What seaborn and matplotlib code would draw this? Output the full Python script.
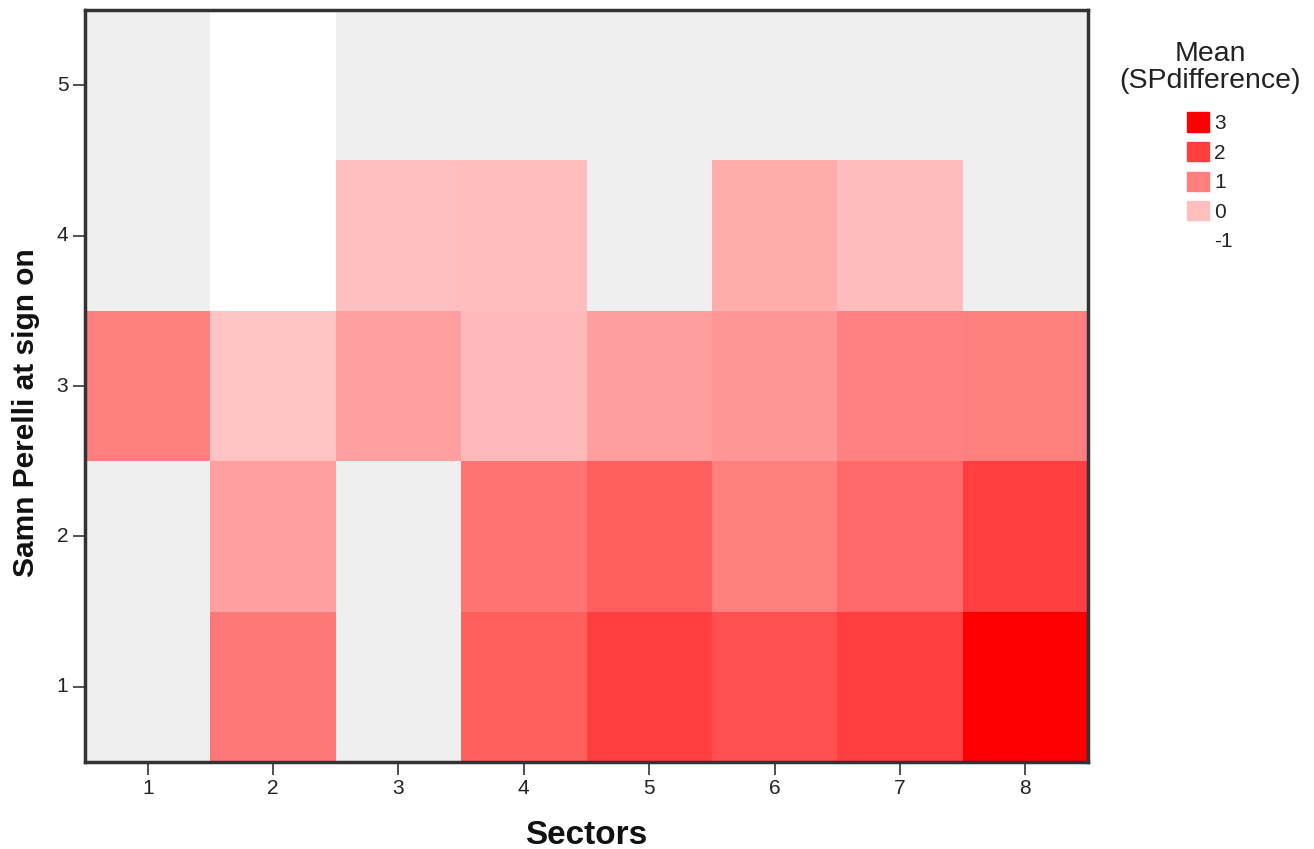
import numpy as np
import pandas as pd
import matplotlib
matplotlib.use("Agg")
import matplotlib.pyplot as plt
from matplotlib.colors import LinearSegmentedColormap, Normalize
from matplotlib.patches import Patch
import seaborn as sns

# Mean SP difference by sector (columns) and Samn Perelli level (rows); None = no data
sectors = [1, 2, 3, 4, 5, 6, 7, 8]
sp_levels = [5, 4, 3, 2, 1]
level5 = [None, -1.0, None, None, None, None, None, None]
level4 = [None, -1.0, 0.0, 0.02, None, 0.3, 0.05, None]
level3 = [1.0, -0.05, 0.5, 0.1, 0.55, 0.65, 0.97, 1.0]
level2 = [None, 0.5, None, 1.2, 1.5, 1.0, 1.35, 2.0]
level1 = [None, 1.12, None, 1.5, 2.0, 1.75, 2.0, 3.0]
legend_values = [3, 2, 1, 0, -1]

sns.set_theme(style="white")
plt.rcParams["font.family"] = ["Liberation Sans", "DejaVu Sans"]

df = pd.DataFrame([level5, level4, level3, level2, level1],
                  index=sp_levels, columns=sectors, dtype=float)

cmap = LinearSegmentedColormap.from_list("wr", ["#ffffff", "#ff0000"])
norm = Normalize(vmin=-1, vmax=3)

fig = plt.figure(figsize=(13.14, 8.49), dpi=100)
ax = fig.add_axes([85 / 1314, 1 - 762 / 849, (1088 - 85) / 1314, (762 - 10) / 849])
ax.set_facecolor("#efefef")

sns.heatmap(df, ax=ax, cmap=cmap, vmin=-1, vmax=3, mask=df.isna(), cbar=False,
            linewidths=0)

for side in ax.spines.values():
    side.set_visible(True)
    side.set_color("#333333")
    side.set_linewidth(2.5)

ax.set_xticklabels([str(s) for s in sectors], rotation=0)
ax.set_yticklabels([str(s) for s in sp_levels], rotation=0)
ax.tick_params(axis="both", which="major", length=9, width=1.2, color="#333333",
               labelsize=15, labelcolor="#222222", pad=3, bottom=True, left=True)
ax.set_xlabel("Sectors", fontsize=24, fontweight="bold", labelpad=16, color="#111111")
ax.set_ylabel("Samn Perelli at sign on", fontsize=21.5, fontweight="bold",
              color="#111111")
ax.yaxis.set_label_coords(-0.0449, 0.464)

handles = []
for v in legend_values:
    c = cmap(norm(v))
    handles.append(Patch(facecolor=c, edgecolor=c if v > -1 else "none"))
leg = fig.legend(handles, [str(v) for v in legend_values],
                 title="Mean\n(SPdifference)", loc="upper center",
                 bbox_to_anchor=(1210 / 1314, 1 - 31 / 849), frameon=False,
                 fontsize=15, title_fontsize=20.5, handlelength=1.05, handleheight=1.05,
                 handletextpad=0.25, labelspacing=0.42, borderpad=0)
leg.get_title().set_multialignment("center")
leg.get_title().set_linespacing(1.05)
for t in leg.get_texts():
    t.set_color("#222222")
leg.get_title().set_color("#222222")
leg._legend_box.sep = 13

fig.savefig("out.png", dpi=100)
